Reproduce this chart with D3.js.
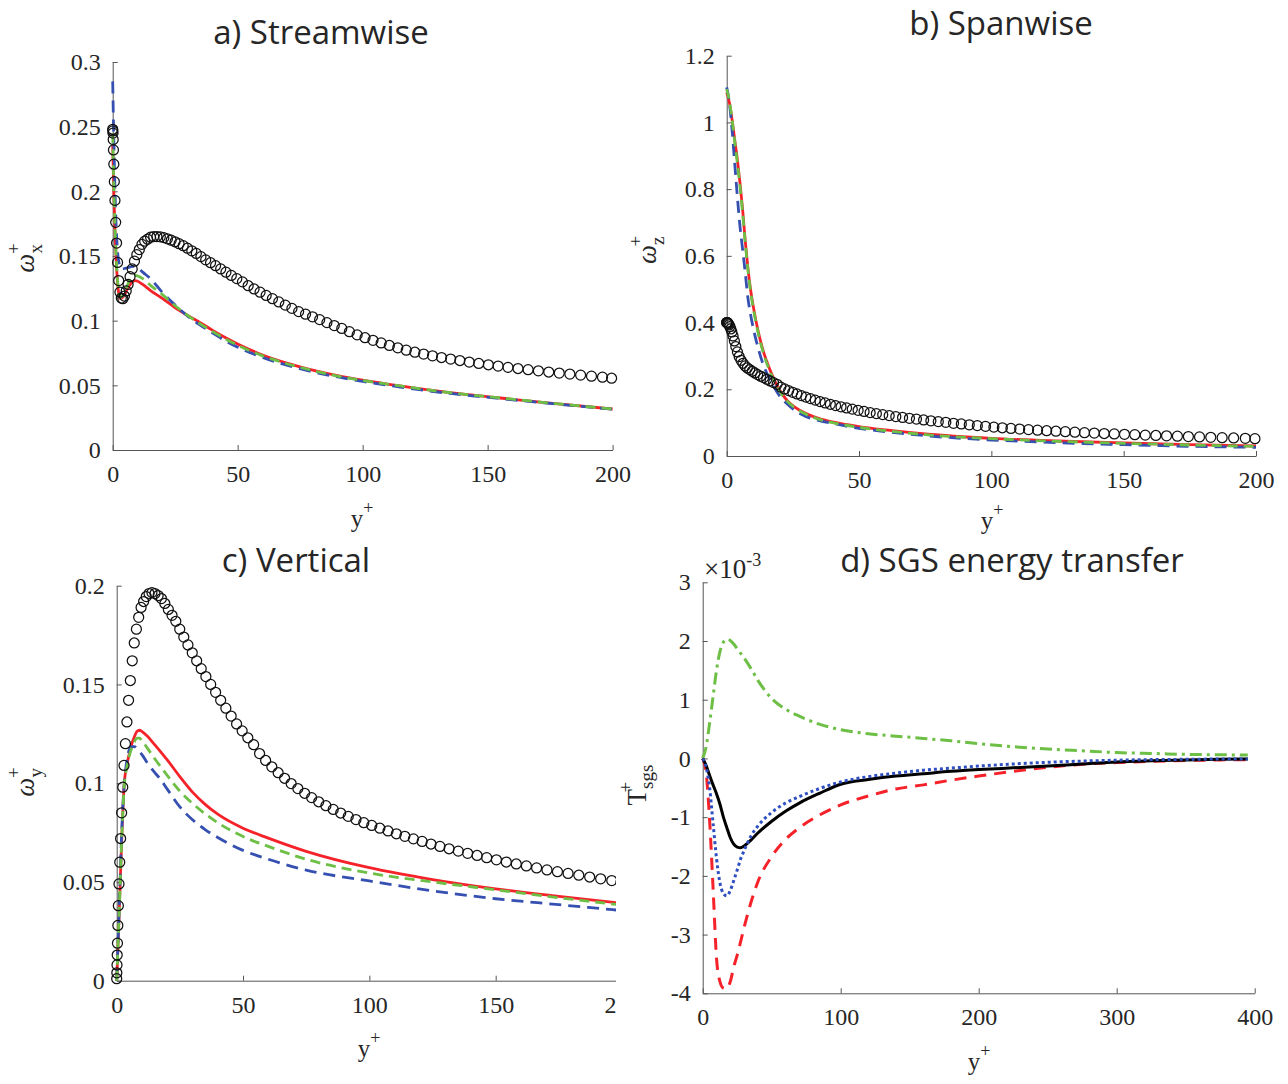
<!DOCTYPE html>
<html>
<head>
<meta charset="utf-8">
<script src="https://cdn.jsdelivr.net/npm/d3@7"></script>
<style>
  body { margin: 0; background: #fff; }
  svg text { fill: #262626; }
  .serif { font-family: 'Liberation Serif', 'Times New Roman', serif; }
  .sans { font-family: 'Open Sans', 'Noto Sans', sans-serif; }
</style>
</head>
<body>
<svg id="fig" width="1288" height="1084"></svg>
<script>
// ---------- DNS wall-normal grid (circles, panels a-c) ----------
const dnsYplus = [0, 0.05, 0.12, 0.2, 0.3, 0.45, 0.65, 0.9, 1.2, 1.55,
  1.95, 2.4, 2.9, 3.45, 4.05, 4.7, 5.4, 6.15, 6.95, 7.8,
  8.7, 9.65, 10.65, 11.7, 12.8, 13.95, 15.15, 16.4, 17.7, 19.05,
  20.45, 21.9, 23.4, 24.95, 26.55, 28.2, 29.9, 31.65, 33.45, 35.3,
  37.2, 39.15, 41.15, 43.2, 45.3, 47.45, 49.65, 51.9, 54.2, 56.55,
  58.95, 61.4, 63.9, 66.45, 69.05, 71.7, 74.4, 77.15, 79.95, 82.8,
  85.7, 88.65, 91.65, 94.7, 97.8, 100.95, 104.15, 107.4, 110.7, 114.05,
  117.45, 120.9, 124.4, 127.95, 131.55, 135.2, 138.9, 142.65, 146.45, 150.3,
  154.2, 158.15, 162.15, 166.2, 170.3, 174.45, 178.65, 182.9, 187.2, 191.55,
  195.95, 199.6];

// streamwise vorticity rms, DNS
const dnsOmegaX = [0.248, 0.2467, 0.245, 0.240, 0.232, 0.221, 0.2075, 0.193, 0.176, 0.160,
  0.145, 0.131, 0.122, 0.1175, 0.117, 0.119, 0.123, 0.128, 0.134, 0.140,
  0.146, 0.151, 0.155, 0.159, 0.1615, 0.163, 0.1645, 0.165, 0.165, 0.1648,
  0.1642, 0.1633, 0.1622, 0.161, 0.1595, 0.158, 0.156, 0.154, 0.152, 0.1495,
  0.147, 0.1448, 0.1425, 0.140, 0.1375, 0.135, 0.1325, 0.130, 0.127, 0.1245,
  0.122, 0.1195, 0.117, 0.1145, 0.112, 0.1095, 0.107, 0.105, 0.103, 0.1008,
  0.0985, 0.0962, 0.094, 0.0915, 0.089, 0.0868, 0.0848, 0.0828, 0.0808, 0.079,
  0.0772, 0.0756, 0.0742, 0.0728, 0.0715, 0.0703, 0.0692, 0.068, 0.0669, 0.0659,
  0.0649, 0.0639, 0.063, 0.0621, 0.0612, 0.0603, 0.0595, 0.0587, 0.0579, 0.0571,
  0.0563, 0.0555];

// spanwise vorticity rms, DNS
const dnsOmegaZ = [0.400, 0.400, 0.400, 0.400, 0.399, 0.398, 0.396, 0.393, 0.388, 0.381,
  0.372, 0.360, 0.345, 0.328, 0.312, 0.298, 0.287, 0.278, 0.270, 0.264,
  0.259, 0.254, 0.249, 0.244, 0.239, 0.235, 0.230, 0.225, 0.220, 0.215,
  0.2065, 0.201, 0.196, 0.191, 0.186, 0.181, 0.1765, 0.172, 0.1675, 0.163,
  0.159, 0.155, 0.151, 0.1475, 0.144, 0.1405, 0.137, 0.1335, 0.130, 0.127,
  0.124, 0.121, 0.118, 0.1155, 0.113, 0.1105, 0.108, 0.1055, 0.103, 0.101,
  0.098, 0.096, 0.0935, 0.091, 0.0888, 0.0866, 0.0846, 0.0827, 0.0808, 0.079,
  0.0773, 0.0757, 0.0742, 0.0728, 0.0714, 0.070, 0.0687, 0.0674, 0.0662, 0.065,
  0.0638, 0.0626, 0.0615, 0.0604, 0.0593, 0.0582, 0.0571, 0.056, 0.055, 0.054,
  0.053, 0.052];

// wall-normal vorticity rms, DNS
const dnsOmegaY = [0.001, 0.004, 0.008, 0.013, 0.019, 0.028, 0.038, 0.049, 0.060, 0.072,
  0.085, 0.098, 0.109, 0.120, 0.131, 0.142, 0.152, 0.162, 0.171, 0.178,
  0.184, 0.189, 0.192, 0.1945, 0.196, 0.1965, 0.196, 0.195, 0.1935, 0.191,
  0.188, 0.185, 0.182, 0.178, 0.174, 0.170, 0.166, 0.162, 0.158, 0.154,
  0.150, 0.146, 0.142, 0.138, 0.134, 0.130, 0.1265, 0.123, 0.1195, 0.115,
  0.1115, 0.1083, 0.1053, 0.1025, 0.0998, 0.0973, 0.0949, 0.0927, 0.0906, 0.0886,
  0.0867, 0.0849, 0.0832, 0.0816, 0.080, 0.0786, 0.0772, 0.0758, 0.0744, 0.0731,
  0.0718, 0.0705, 0.0692, 0.068, 0.0668, 0.0656, 0.0645, 0.0634, 0.0623, 0.0612,
  0.0601, 0.0591, 0.0581, 0.0571, 0.0561, 0.0552, 0.0543, 0.0534, 0.0525, 0.0516,
  0.0507, 0.0499];

// ---------- LES profiles, panel a ----------
const lesYplusA = [0, 0.5, 1, 1.5, 2, 2.5, 3, 4, 5, 6, 7, 8, 9, 10, 12, 15, 20, 25, 30, 35,
  40, 45, 50, 60, 70, 80, 90, 100, 115, 135, 155, 175, 200];
const lesA_red = [0.235, 0.195, 0.165, 0.143, 0.128, 0.12, 0.117, 0.118, 0.121, 0.125, 0.128, 0.1302, 0.131, 0.1305, 0.128, 0.1235, 0.117, 0.110, 0.104, 0.0985,
  0.0925, 0.087, 0.082, 0.0735, 0.067, 0.0618, 0.0575, 0.054, 0.0495, 0.0443, 0.0402, 0.0363, 0.0317];
const lesA_green = [0.245, 0.2, 0.168, 0.145, 0.13, 0.121, 0.118, 0.119, 0.123, 0.128, 0.132, 0.1345, 0.135, 0.1345, 0.1325, 0.1275, 0.120, 0.1115, 0.104, 0.0975,
  0.0915, 0.086, 0.081, 0.0728, 0.0665, 0.0615, 0.0572, 0.0538, 0.0495, 0.0443, 0.0403, 0.0363, 0.0317];
const lesA_blue = [0.285, 0.235, 0.195, 0.168, 0.152, 0.145, 0.1405, 0.140, 0.1405, 0.141, 0.1415, 0.142, 0.1418, 0.141, 0.1375, 0.1327, 0.1215, 0.112, 0.1035, 0.0965,
  0.0905, 0.0845, 0.0795, 0.0715, 0.0655, 0.0605, 0.0565, 0.053, 0.0487, 0.0437, 0.0398, 0.036, 0.0315];

// ---------- LES profiles, panel b ----------
const lesYplusB = [0, 1, 2, 3, 4, 5, 6, 7, 8, 9, 10, 12, 14, 16, 18, 20, 23, 26, 30, 35,
  40, 50, 60, 75, 100, 125, 150, 175, 200];
const lesB_red = [1.09, 1.06, 1.01, 0.95, 0.89, 0.82, 0.74, 0.645, 0.565, 0.50, 0.45, 0.37, 0.31, 0.265, 0.228, 0.198, 0.165, 0.145, 0.127, 0.112,
  0.102, 0.088, 0.078, 0.066, 0.053, 0.045, 0.039, 0.034, 0.030];
const lesB_green = [1.10, 1.065, 1.01, 0.945, 0.88, 0.81, 0.73, 0.64, 0.56, 0.495, 0.445, 0.365, 0.305, 0.26, 0.224, 0.195, 0.163, 0.143, 0.125, 0.110,
  0.100, 0.086, 0.076, 0.064, 0.052, 0.044, 0.038, 0.033, 0.029];
const lesB_blue = [1.105, 1.06, 0.98, 0.88, 0.78, 0.69, 0.62, 0.55, 0.475, 0.425, 0.385, 0.32, 0.27, 0.235, 0.205, 0.18, 0.155, 0.135, 0.118, 0.106,
  0.098, 0.083, 0.073, 0.061, 0.048, 0.040, 0.034, 0.029, 0.026];

// ---------- LES profiles, panel c ----------
const lesYplusC = [0, 1, 2, 3, 4, 5, 6, 7, 8, 9, 10, 12, 15, 17, 20, 25, 30, 35, 40, 50,
  60, 75, 100, 125, 150, 175, 200];
const lesC_red = [0, 0.035, 0.072, 0.100, 0.109, 0.115, 0.120, 0.1235, 0.1262, 0.1268, 0.1262, 0.1240, 0.1195, 0.1165, 0.1118, 0.1033, 0.0955, 0.0893, 0.0843, 0.0772,
  0.0722, 0.0655, 0.0572, 0.0512, 0.0465, 0.0427, 0.0392];
const lesC_green = [0, 0.035, 0.072, 0.099, 0.108, 0.114, 0.118, 0.121, 0.1228, 0.1228, 0.1215, 0.118, 0.1125, 0.109, 0.104, 0.096, 0.0898, 0.0845, 0.080, 0.073,
  0.068, 0.0615, 0.0545, 0.050, 0.046, 0.042, 0.0383];
const lesC_blue = [0, 0.037, 0.076, 0.100, 0.111, 0.117, 0.1185, 0.1185, 0.1175, 0.116, 0.1145, 0.1105, 0.1055, 0.1025, 0.097, 0.088, 0.0815, 0.0765, 0.0725, 0.066,
  0.0615, 0.056, 0.0505, 0.0455, 0.0415, 0.0385, 0.0355];

// ---------- SGS energy transfer, panel d (units of 1e-3) ----------
const sgsYplus = [0, 2.5, 5, 7.5, 10, 12.5, 15, 17.5, 20, 22.5, 25, 27.5, 30, 35, 40, 50, 60, 70, 85, 100,
  120, 140, 160, 180, 200, 225, 250, 275, 300, 325, 350, 375, 395];
const sgsGreen = [0, 0.2, 0.6, 1.05, 1.5, 1.82, 1.98, 2.03, 2.01, 1.95, 1.87, 1.79, 1.71, 1.53, 1.33, 1.02, 0.84, 0.72, 0.58, 0.49,
  0.42, 0.38, 0.34, 0.30, 0.25, 0.20, 0.16, 0.13, 0.10, 0.085, 0.07, 0.062, 0.058];
const sgsBlack = [0, -0.12, -0.29, -0.45, -0.6, -0.78, -1.0, -1.18, -1.35, -1.46, -1.51, -1.52, -1.49, -1.39, -1.27, -1.07, -0.9, -0.76, -0.59, -0.44,
  -0.36, -0.30, -0.26, -0.22, -0.19, -0.16, -0.13, -0.095, -0.06, -0.04, -0.025, -0.015, -0.01];
const sgsBlue = [0, -0.15, -0.5, -1.1, -1.7, -2.12, -2.3, -2.34, -2.25, -2.08, -1.9, -1.71, -1.57, -1.32, -1.15, -0.92, -0.76, -0.65, -0.51, -0.40,
  -0.31, -0.25, -0.20, -0.165, -0.13, -0.095, -0.065, -0.045, -0.03, -0.02, -0.015, -0.01, -0.01];
const sgsRed = [0, -0.25, -1.05, -2.2, -3.4, -3.8, -3.91, -3.92, -3.8, -3.55, -3.35, -3.12, -2.88, -2.45, -2.1, -1.67, -1.38, -1.18, -0.96, -0.79,
  -0.64, -0.52, -0.45, -0.37, -0.30, -0.22, -0.15, -0.10, -0.07, -0.05, -0.035, -0.025, -0.02];

// ---------- tick values ----------
const ticksYplus200 = [0, 50, 100, 150, 200];
const ticksYplus400 = [0, 100, 200, 300, 400];
const ticksOmegaX = [0, 0.05, 0.1, 0.15, 0.2, 0.25, 0.3];
const ticksOmegaZ = [0, 0.2, 0.4, 0.6, 0.8, 1, 1.2];
const ticksOmegaY = [0, 0.05, 0.1, 0.15, 0.2];
const ticksSgs = [-4, -3, -2, -1, 0, 1, 2, 3];

// ---------- drawing ----------
const svg = d3.select('#fig');
const RED = '#f5222a', GREEN = '#6dbf45', BLUE = '#3550b0', BLACK = '#000';

svg.append('defs').append('clipPath').attr('id', 'clipC')
  .append('rect').attr('x', 0).attr('y', 540).attr('width', 616).attr('height', 544);

function panel(cfg) {
  const g = svg.append('g');
  if (cfg.clip) g.attr('clip-path', `url(#${cfg.clip})`);
  const x = d3.scaleLinear().domain(cfg.xDomain).range([cfg.left, cfg.right]);
  const y = d3.scaleLinear().domain(cfg.yDomain).range([cfg.bottom, cfg.top]);

  const fmt = d => String(d);
  const ax = g.append('g').attr('transform', `translate(0,${cfg.bottom})`)
    .call(d3.axisBottom(x).tickValues(cfg.xTicks).tickSizeInner(-5).tickSizeOuter(0).tickPadding(15).tickFormat(fmt));
  const ay = g.append('g').attr('transform', `translate(${cfg.left},0)`)
    .call(d3.axisLeft(y).tickValues(cfg.yTicks).tickSizeInner(-5).tickSizeOuter(0).tickPadding(12).tickFormat(fmt));
  [ax, ay].forEach(a => {
    a.attr('font-family', null).attr('font-size', null);
    a.select('.domain').attr('stroke', '#555').attr('stroke-width', 1);
    a.selectAll('.tick line').attr('stroke', '#555');
    a.selectAll('.tick text').attr('class', 'serif')
      .style('font-size', '24px').attr('fill', '#262626');
  });

  cfg.lines.forEach(L => {
    const line = d3.line().x((d, i) => x(L.xs[i])).y(d => y(d)).curve(d3.curveMonotoneX);
    g.append('path').attr('d', line(L.ys)).attr('fill', 'none')
      .attr('stroke', L.color).attr('stroke-width', L.width || 2.8)
      .attr('stroke-dasharray', L.dash || null);
  });

  if (cfg.circles) {
    g.append('g').selectAll('circle').data(cfg.circles.ys).join('circle')
      .attr('cx', (d, i) => x(cfg.circles.xs[i])).attr('cy', d => y(d)).attr('r', 5)
      .attr('fill', 'none').attr('stroke', '#111').attr('stroke-width', 1.25);
  }
  return g;
}

// a) streamwise
panel({
  left: 112.7, right: 612.6, top: 62, bottom: 450,
  xDomain: [0, 200], yDomain: [0, 0.3], xTicks: ticksYplus200, yTicks: ticksOmegaX,
  lines: [
    { xs: lesYplusA, ys: lesA_red, color: RED },
    { xs: lesYplusA, ys: lesA_blue, color: BLUE, dash: '12,7' },
    { xs: lesYplusA, ys: lesA_green, color: GREEN, dash: '10,6' }
  ],
  circles: { xs: dnsYplus, ys: dnsOmegaX }
});

// b) spanwise
panel({
  left: 726.7, right: 1256, top: 55.7, bottom: 456,
  xDomain: [0, 200], yDomain: [0, 1.2], xTicks: ticksYplus200, yTicks: ticksOmegaZ,
  lines: [
    { xs: lesYplusB, ys: lesB_red, color: RED },
    { xs: lesYplusB, ys: lesB_blue, color: BLUE, dash: '12,7' },
    { xs: lesYplusB, ys: lesB_green, color: GREEN, dash: '10,6' }
  ],
  circles: { xs: dnsYplus, ys: dnsOmegaZ }
});

// c) vertical
panel({
  clip: 'clipC',
  left: 116.7, right: 622, top: 585.7, bottom: 980.7,
  xDomain: [0, 200], yDomain: [0, 0.2], xTicks: ticksYplus200, yTicks: ticksOmegaY,
  lines: [
    { xs: lesYplusC, ys: lesC_red, color: RED },
    { xs: lesYplusC, ys: lesC_blue, color: BLUE, dash: '12,7' },
    { xs: lesYplusC, ys: lesC_green, color: GREEN, dash: '10,6' }
  ],
  circles: { xs: dnsYplus, ys: dnsOmegaY }
});

// d) SGS energy transfer
panel({
  left: 702.7, right: 1254.7, top: 582.3, bottom: 993.3,
  xDomain: [0, 400], yDomain: [-4, 3], xTicks: ticksYplus400, yTicks: ticksSgs,
  lines: [
    { xs: sgsYplus, ys: sgsGreen, color: GREEN, dash: '12,5,3,5', width: 3 },
    { xs: sgsYplus, ys: sgsRed, color: RED, dash: '12,8', width: 3 },
    { xs: sgsYplus, ys: sgsBlack, color: BLACK, width: 3 },
    { xs: sgsYplus, ys: sgsBlue, color: '#2f4fc0', dash: '3,3', width: 3 }
  ]
});

// ---------- titles ----------
const titles = [
  { t: 'a) Streamwise', x: 321, y: 44 },
  { t: 'b) Spanwise', x: 1001, y: 35 },
  { t: 'c) Vertical', x: 296, y: 572 },
  { t: 'd) SGS energy transfer', x: 1012, y: 572 }
];
svg.selectAll('text.title').data(titles).join('text').attr('class', 'title sans')
  .attr('x', d => d.x).attr('y', d => d.y).attr('text-anchor', 'middle')
  .style('font-size', '33px').attr('fill', '#111').text(d => d.t);

// ---------- x-axis labels: y+ ----------
[[362, 527], [992, 529], [369, 1057], [979, 1070]].forEach(([cx, by]) => {
  const t = svg.append('text').attr('class', 'serif').attr('x', cx).attr('y', by)
    .attr('text-anchor', 'middle').style('font-size', '25px');
  t.append('tspan').text('y');
  t.append('tspan').attr('dy', -13).style('font-size', '18px').text('+');
});

// ---------- y-axis labels ----------
function vortLabel(bx, cy, comp) {
  const t = svg.append('text').attr('class', 'serif')
    .attr('transform', `translate(${bx},${cy}) rotate(-90)`)
    .attr('text-anchor', 'middle').style('font-size', '27px');
  t.append('tspan').attr('font-style', 'italic').text('ω');
  t.append('tspan').attr('dy', 8).style('font-size', '19px').text(comp);
  t.append('tspan').attr('dx', -10).attr('dy', -22).style('font-size', '19px').text('+');
}
vortLabel(34, 258, 'x');
vortLabel(656, 250, 'z');
vortLabel(34, 782, 'y');

{
  const t = svg.append('text').attr('class', 'serif')
    .attr('transform', 'translate(646,785) rotate(-90)')
    .attr('text-anchor', 'middle').style('font-size', '27px');
  t.append('tspan').text('T');
  t.append('tspan').attr('dy', 7).style('font-size', '19px').text('sgs');
  t.append('tspan').attr('dx', -28).attr('dy', -21).style('font-size', '19px').text('+');
}

// exponent of panel d
{
  const t = svg.append('text').attr('class', 'serif').attr('x', 704).attr('y', 578)
    .style('font-size', '27px');
  t.append('tspan').text('×10');
  t.append('tspan').attr('dy', -12).style('font-size', '18px').text('-3');
}
</script>
</body>
</html>
